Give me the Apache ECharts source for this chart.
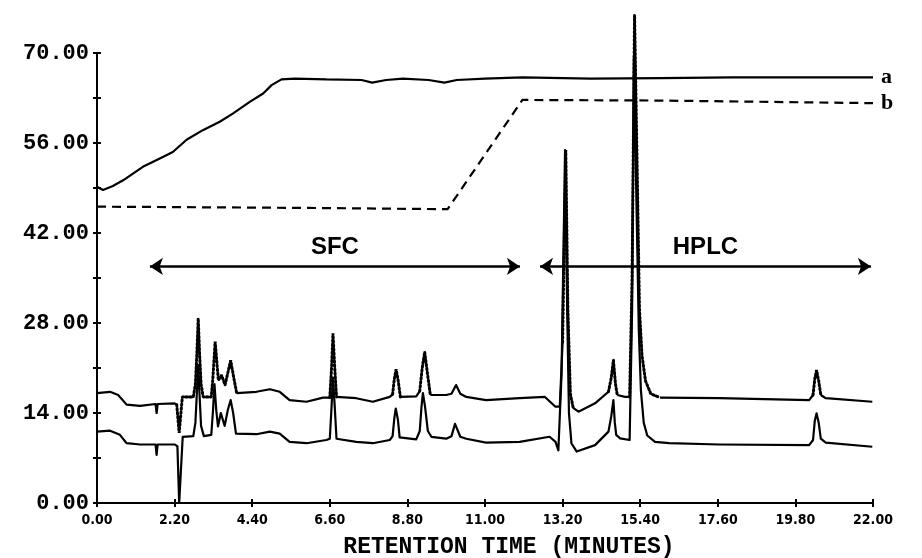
<!DOCTYPE html>
<html>
<head>
<meta charset="utf-8">
<title>Retention time chromatogram</title>
<script src="https://cdn.jsdelivr.net/npm/echarts@6/dist/echarts.min.js"></script>
<style>
  html, body { margin: 0; padding: 0; background: #fff; }
  #chart { width: 922px; height: 558px; }
</style>
</head>
<body>
<div id="chart"></div>
<script>
// Axis ranges (minutes, detector/gradient units)
const timeMin = 0, timeMax = 22, timeStep = 2.2;
const valMin = 0, valMax = 70, valStep = 7, valLabelStep = 14;

// Gradient programme a (solid) and b (dashed): [time, value]
const gradientA = [
  [0, 49.2], [0.17, 48.7], [0.45, 49.3], [0.74, 50.2], [1.3, 52.3], [1.78, 53.6],
  [2.15, 54.6], [2.54, 56.5], [3.0, 58.0], [3.48, 59.3], [3.86, 60.6], [4.33, 62.4],
  [4.71, 63.7], [4.95, 65.0], [5.23, 65.9], [5.6, 66.0], [6.5, 65.9], [7.5, 65.8],
  [7.8, 65.4], [8.2, 65.8], [8.67, 66.0], [9.4, 65.8], [9.85, 65.4], [10.2, 65.8],
  [11.0, 66.0], [12.06, 66.2], [14, 66.0], [16, 66.1], [18, 66.2], [22, 66.2]
];
const gradientB = [
  [0, 46.1], [3, 46.0], [6, 45.9], [9.94, 45.7], [12.06, 62.7], [16, 62.6], [22, 62.2]
];

// Upper chromogram trace: [time, response]
const traceUpper = [
  [0, 17.1], [0.37, 17.3], [0.6, 16.8], [0.84, 15.3], [1.22, 15.1], [1.66, 15.4], [1.69, 14.0],
  [1.72, 15.4], [2.2, 15.5], [2.26, 15.3], [2.33, 10.9], [2.42, 16.5], [2.73, 16.5], [2.79, 18.5],
  [2.83, 23], [2.87, 28.7], [2.91, 23], [2.95, 18.5], [3.01, 16.5], [3.24, 16.5], [3.28, 19],
  [3.35, 25.1], [3.44, 19.1], [3.53, 19.9], [3.63, 18.35], [3.72, 20.5], [3.79, 22.2], [3.86, 20],
  [3.96, 17.1], [4.52, 17.3], [4.9, 17.7], [5.18, 17.3], [5.46, 16.0], [5.94, 15.75], [6.41, 16.4],
  [6.6, 16.4], [6.65, 21], [6.69, 26.4], [6.74, 21], [6.79, 16.5], [7.35, 16.3], [7.82, 15.75],
  [8.3, 16.5], [8.38, 16.9], [8.43, 19.3], [8.48, 20.8], [8.54, 19], [8.6, 16.5], [9.05, 16.6],
  [9.15, 17.4], [9.22, 21], [9.29, 23.5], [9.36, 20.5], [9.45, 16.8], [9.9, 16.8], [10.05, 17.0],
  [10.18, 18.35], [10.3, 17.0], [10.47, 16.5], [11.03, 16.0], [11.98, 16.3], [12.7, 16.5],
  [12.99, 15.0], [13.12, 15.0], [13.2, 25], [13.29, 54.9], [13.35, 30], [13.42, 17], [13.5, 14.8],
  [13.65, 14.2], [14.12, 15.5], [14.5, 17.3], [14.58, 19.5], [14.64, 22.2], [14.7, 18.5],
  [14.75, 16.8], [14.97, 16.5], [15.1, 16.5], [15.17, 35], [15.24, 75.9], [15.32, 50], [15.38, 30],
  [15.45, 23], [15.55, 19], [15.7, 17], [15.96, 16.4], [17.64, 16.3], [20.19, 16.0], [20.3, 16.8],
  [20.35, 19.3], [20.4, 20.7], [20.46, 19], [20.52, 16.8], [20.66, 16.3], [21.98, 15.75]
];
// Time spans of the upper trace plotted as dots (fast pen travel)
const dottedSpans = [
  [2.26, 2.42], [2.73, 3.01], [3.24, 3.96], [6.6, 6.79], [8.38, 8.6], [9.15, 9.45],
  [13.2, 13.5], [14.5, 14.75], [15.1, 15.96], [20.3, 20.52]
];

// Lower chromogram trace: [time, response]
const traceLower = [
  [0, 11.1], [0.37, 11.25], [0.65, 10.6], [0.84, 9.3], [1.22, 9.1], [1.66, 9.1], [1.69, 7.5],
  [1.72, 9.1], [2.21, 9.1], [2.28, 8.8], [2.33, 0], [2.38, 0], [2.43, 10.3], [2.73, 10.4], [2.79, 12.5],
  [2.83, 17], [2.87, 21.5], [2.91, 16.5], [2.95, 12], [3.03, 10.4], [3.24, 10.6], [3.29, 14.5],
  [3.33, 18.5], [3.38, 14.5], [3.43, 11.9], [3.51, 14.0], [3.62, 12.0], [3.71, 14.5], [3.79, 16.0],
  [3.86, 14], [3.94, 10.8], [4.52, 10.7], [4.9, 11.1], [5.18, 10.8], [5.46, 9.5], [5.94, 9.3],
  [6.5, 9.8], [6.6, 10], [6.65, 15], [6.69, 19.5], [6.74, 15], [6.79, 10.0], [7.35, 9.5], [7.82, 9.3],
  [8.3, 9.8], [8.38, 10.4], [8.43, 13.2], [8.47, 14.7], [8.53, 13], [8.58, 10.2], [9.05, 9.9],
  [9.15, 11.2], [9.2, 15], [9.24, 17.1], [9.3, 15], [9.38, 11.2], [9.48, 10.3], [9.9, 10.0],
  [10.05, 10.4], [10.15, 12.3], [10.3, 10.3], [10.47, 10.0], [11.03, 9.4], [11.98, 9.5],
  [12.83, 10.3], [13.0, 9.5], [13.08, 8.2], [13.17, 20], [13.27, 54.9], [13.33, 30], [13.38, 14],
  [13.45, 9.3], [13.6, 8.0], [14.12, 9.0], [14.5, 11.1], [14.58, 13.5], [14.64, 16.0], [14.68, 12.5],
  [14.72, 10.6], [14.83, 10.05], [15.1, 9.8], [15.17, 30], [15.22, 69.4], [15.3, 45], [15.36, 27],
  [15.42, 17.5], [15.5, 12.5], [15.6, 10.5], [15.82, 9.5], [16.22, 9.3], [17.64, 9.1], [20.19, 9.0],
  [20.3, 9.8], [20.35, 12.8], [20.4, 13.95], [20.46, 12.5], [20.52, 10], [20.66, 9.4], [21.98, 8.75]
];

// Separation-mode ranges shown as double arrows
const sfcSpan = [1.5, 11.99];
const hplcSpan = [12.56, 21.94];
const spanLevel = 36.8;

const inSpan = (t, strict) => dottedSpans.some(([a, b]) => strict ? (t > a && t < b) : (t >= a && t <= b));
const upperSolid = traceUpper.map(p => inSpan(p[0], true) ? [p[0], null] : p);
const upperDotted = traceUpper.map(p => inSpan(p[0], false) ? p : [p[0], null]);

const INK = '#000';
const monoFont = '"Liberation Mono", "DejaVu Sans Mono", monospace';
const narrowFont = '"Liberation Sans Narrow", "DejaVu Sans Condensed", "Liberation Sans", sans-serif';

const baseLine = {
  type: 'line', showSymbol: false, symbol: 'none', animation: false, silent: true,
  connectNulls: false
};

const chart = echarts.init(document.getElementById('chart'), null, { renderer: 'canvas' });
chart.setOption({
  backgroundColor: '#fff',
  animation: false,
  grid: { left: 97, right: 49, top: 53, bottom: 55, containLabel: false, outerBoundsMode: 'none' },
  xAxis: [
    {
      type: 'value', min: timeMin, max: timeMax, interval: timeStep,
      axisLine: { lineStyle: { color: INK, width: 2 } },
      axisTick: { show: true, length: 4, lineStyle: { color: INK, width: 2 } },
      splitLine: { show: false },
      axisLabel: {
        color: INK, fontFamily: narrowFont, fontWeight: 'bold', fontSize: 14, margin: 10,
        formatter: v => v.toFixed(2)
      },
      name: 'RETENTION TIME (MINUTES)', nameLocation: 'middle', nameGap: 33,
      nameTextStyle: { color: INK, fontFamily: monoFont, fontWeight: 'bold', fontSize: 23, padding: [0, 0, 0, 48] }
    },
    {
      type: 'value', min: timeMin, max: timeMax, interval: timeStep, position: 'bottom',
      axisLine: { show: false }, axisLabel: { show: false }, splitLine: { show: false },
      axisTick: { show: true, inside: true, length: 4, lineStyle: { color: INK, width: 2 } }
    }
  ],
  yAxis: [
    {
      type: 'value', min: valMin, max: valMax, interval: valStep,
      axisLine: { show: true, lineStyle: { color: INK, width: 2 } },
      axisTick: { show: true, length: 4, lineStyle: { color: INK, width: 2 } },
      splitLine: { show: false },
      axisLabel: {
        color: INK, fontFamily: monoFont, fontWeight: 'bold', fontSize: 22, margin: 8,
        formatter: v => (Math.round(v) % valLabelStep === 0 ? v.toFixed(2) : '')
      }
    },
    {
      type: 'value', min: valMin, max: valMax, interval: valStep, position: 'left',
      axisLine: { show: false }, axisLabel: { show: false }, splitLine: { show: false },
      axisTick: { show: true, inside: true, length: 4, lineStyle: { color: INK, width: 2 } }
    }
  ],
  series: [
    Object.assign({}, baseLine, {
      name: 'a', data: gradientA,
      lineStyle: { color: INK, width: 2.2 },
      endLabel: {
        show: true, formatter: 'a', color: INK, distance: 8,
        fontFamily: '"Liberation Serif", "DejaVu Serif", serif', fontWeight: 'bold', fontSize: 22
      },
      markLine: {
        silent: true, animation: false,
        symbol: ['arrow', 'arrow'], symbolSize: 13,
        lineStyle: { color: INK, width: 2.5, type: 'solid' },
        label: {
          show: true, position: 'middle', formatter: '{b}', distance: 7, color: INK,
          fontFamily: '"Liberation Sans", Arial, sans-serif', fontWeight: 'bold', fontSize: 24
        },
        data: [
          [{ name: 'SFC', coord: [sfcSpan[0], spanLevel] }, { coord: [sfcSpan[1], spanLevel] }],
          [{ name: 'HPLC', coord: [hplcSpan[0], spanLevel] }, { coord: [hplcSpan[1], spanLevel] }]
        ]
      }
    }),
    Object.assign({}, baseLine, {
      name: 'b', data: gradientB,
      lineStyle: { color: INK, width: 2.2, type: [9, 6] },
      endLabel: {
        show: true, formatter: 'b', color: INK, distance: 8,
        fontFamily: '"Liberation Serif", "DejaVu Serif", serif', fontWeight: 'bold', fontSize: 22
      }
    }),
    Object.assign({}, baseLine, {
      name: 'lower', data: traceLower,
      lineStyle: { color: INK, width: 2.2, join: 'round' }
    }),
    Object.assign({}, baseLine, {
      name: 'upper', data: upperSolid,
      lineStyle: { color: INK, width: 2.2, join: 'round' }
    }),
    Object.assign({}, baseLine, {
      name: 'upper dots', data: upperDotted, clip: false,
      lineStyle: { color: INK, width: 3, type: [1.5, 2.5], cap: 'round' }
    })
  ]
});
</script>
</body>
</html>
